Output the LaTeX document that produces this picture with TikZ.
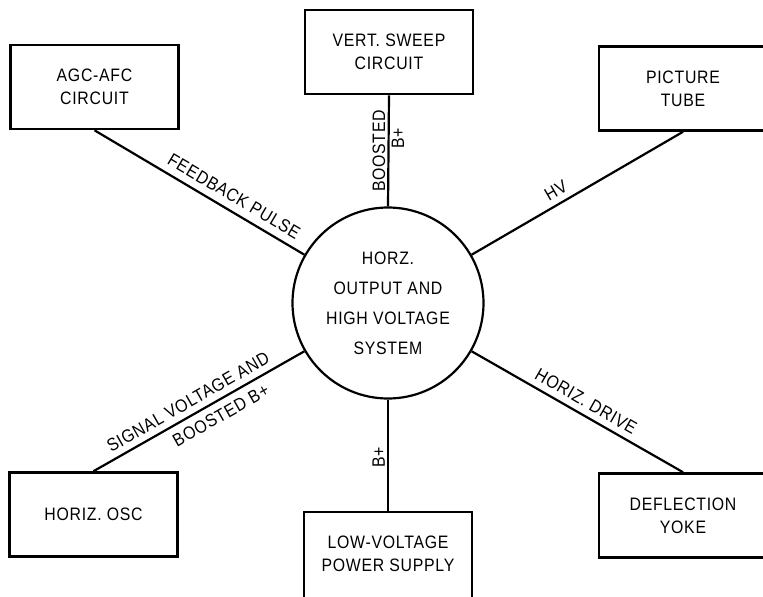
\documentclass[tikz,border=0pt]{standalone}
\usepackage{fontspec}
\setmainfont{Liberation Sans}[FakeStretch=0.88, LetterSpace=4]
\begin{document}
\begin{tikzpicture}[x=1pt, y=-1pt,
  every node/.style={font=\fontsize{18}{23}\selectfont},
  block/.style={draw, line width=2.6pt, minimum width=168pt, minimum height=84pt,
                align=center, inner sep=0pt},
  hub/.style={draw, circle, line width=2.2pt, minimum size=191pt, align=center,
              inner sep=0pt, font=\fontsize{18}{30}\selectfont},
  link/.style={line width=2.2pt},
  tag/.style={inner sep=2pt}]
  \useasboundingbox (0,0) rectangle (763,597);
  \clip (0,0) rectangle (763,597);

  % central stage
  \node[hub] (hov) at (388,303) {HORZ.\\OUTPUT AND\\HIGH VOLTAGE\\SYSTEM};

  % surrounding circuits
  \node[block] (agc)  at (94.5,87)  {AGC-AFC\\CIRCUIT};
  \node[block] (vert) at (389,52)   {VERT. SWEEP\\CIRCUIT};
  \node[block] (pic)  at (683,88.5) {PICTURE\\TUBE};
  \node[block] (osc)  at (93.5,514.5) {HORIZ. OSC};
  \node[block, minimum height=96pt] (lvps) at (388,560) {};
  \node[align=center] (lvpstext) at (388,554) {LOW-VOLTAGE\\POWER SUPPLY};
  \node[block] (yoke) at (683,515.5) {DEFLECTION\\YOKE};

  % connections
  \draw[link] (agc.south) -- (hov.150)
    node[tag, pos=0.63, sloped, above=5pt] {FEEDBACK PULSE};
  \draw[link] (hov.30) -- (pic.south)
    node[tag, pos=0.43, sloped, above=4pt] {HV};
  \draw[link] (osc.north) -- (hov.210)
    node[tag, pos=0.48, sloped, above=4pt] {SIGNAL VOLTAGE AND}
    node[tag, pos=0.57, sloped, below=5pt] {BOOSTED B+};
  \draw[link] (hov.330) -- (yoke.north)
    node[tag, pos=0.51, sloped, above=4pt] {HORIZ. DRIVE};
  \draw[link] (vert.south) -- (hov.north)
    node[tag, pos=0.5, rotate=90, anchor=south] {BOOSTED}
    node[tag, pos=0.39, rotate=90, anchor=north] {B+};
  \draw[link] (hov.south) -- (lvps.north)
    node[tag, pos=0.52, rotate=90, anchor=south] {B+};
\end{tikzpicture}
\end{document}
